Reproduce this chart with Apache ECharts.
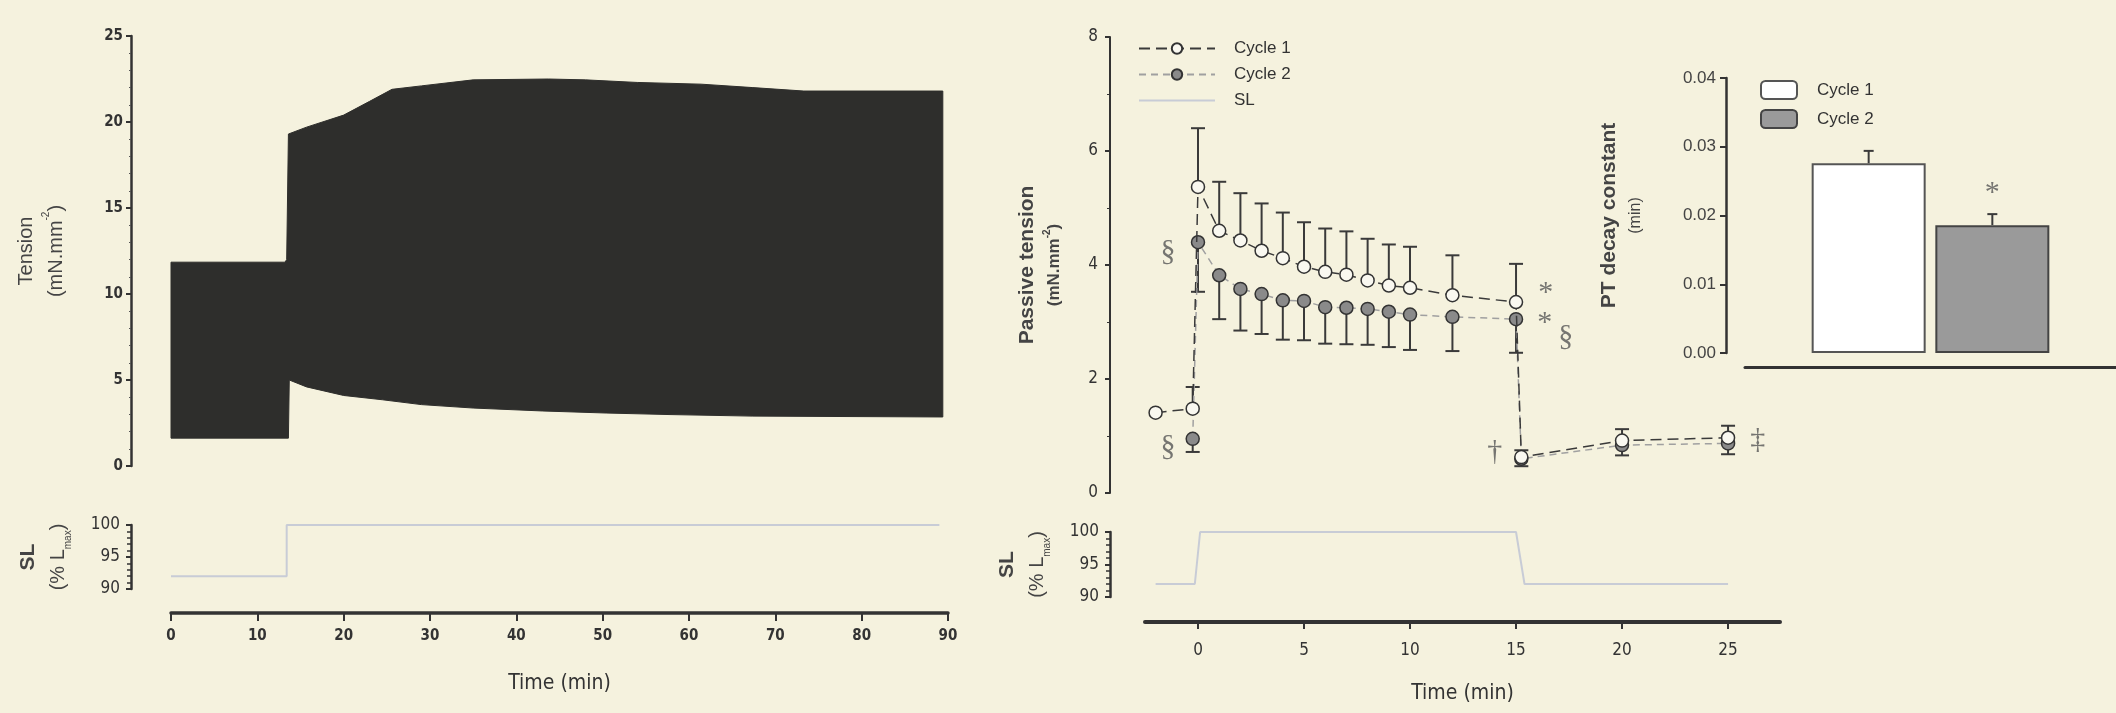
<!DOCTYPE html>
<html>
<head>
<meta charset="utf-8">
<script src="https://cdn.jsdelivr.net/npm/echarts@6/dist/echarts.min.js"></script>
<style>
  html, body {margin: 0; padding: 0; background: #f5f2de;}
  #chart {width: 2116px; height: 713px;}
</style>
</head>
<body>
<div id="chart"></div>
<script>
// left panel: raw tension trace envelope (min)
const traceHiTime = [0, 13.2, 13.4, 13.6, 15.7, 20, 23, 25.6, 29, 35, 43.7, 48, 54, 61.4, 67.4, 73.3, 89.4]
const traceHi = [11.85, 11.85, 12.0, 19.3, 19.7, 20.4, 21.2, 21.9, 22.1, 22.45, 22.5, 22.45, 22.3, 22.2, 22.0, 21.8, 21.8]
const traceLoTime = [0, 13.6, 13.7, 15.7, 20, 24.5, 29, 35, 43, 50.4, 57.8, 67.4, 89.4]
const traceLo = [1.62, 1.62, 5.0, 4.6, 4.1, 3.85, 3.57, 3.37, 3.2, 3.08, 2.99, 2.9, 2.85]

// sarcomere length protocols
const slLongTime = [0, 13.4, 13.4, 89]
const slLong = [92, 92, 100, 100]
const slShortTime = [-2, -0.15, 0.1, 15, 15.4, 25]
const slShort = [92, 92, 100, 100, 92, 92]

// middle panel: passive tension, mean and SEM
const c1Time = [-2, -0.25, 0, 1, 2, 3, 4, 5, 6, 7, 8, 9, 10, 12, 15, 15.25, 20, 25]
const c1Mean = [1.41, 1.48, 5.37, 4.6, 4.43, 4.25, 4.12, 3.97, 3.88, 3.83, 3.73, 3.64, 3.6, 3.47, 3.35, 0.63, 0.92, 0.97]
const c1Err = [0, 0.38, 1.03, 0.86, 0.83, 0.83, 0.8, 0.78, 0.76, 0.76, 0.73, 0.72, 0.72, 0.7, 0.67, 0.12, 0.2, 0.21]
const c2Time = [-0.25, 0, 1, 2, 3, 4, 5, 6, 7, 8, 9, 10, 12, 15, 15.25, 20, 25]
const c2Mean = [0.95, 4.4, 3.82, 3.58, 3.49, 3.38, 3.37, 3.26, 3.25, 3.23, 3.18, 3.13, 3.09, 3.05, 0.6, 0.84, 0.87]
const c2Err = [0.23, 0.87, 0.77, 0.73, 0.7, 0.69, 0.69, 0.64, 0.64, 0.63, 0.62, 0.62, 0.6, 0.59, 0.13, 0.18, 0.19]

// inset: PT decay constant
const decayPos = [1, 2]
const decayMean = [0.0276, 0.0186]
const decayErr = [0.0018, 0.0016]

// significance marks
const marks = [
  {t: -1.42, v: 4.23, text: '§'},
  {t: -1.42, v: 0.81, text: '§'},
  {t: 16.4, v: 3.5, text: '*'},
  {t: 16.35, v: 2.98, text: '*'},
  {t: 17.35, v: 2.74, text: '§'},
  {t: 14.0, v: 0.72, text: '†'},
  {t: 26.4, v: 0.93, text: '‡'},
]

const BG = '#f5f2de'
const INK = '#333'
const NARROW = "'Liberation Sans Narrow', 'DejaVu Sans Condensed', sans-serif"
const SANS = "'Liberation Sans', Arial, sans-serif"
const SERIF = "'Liberation Serif', 'DejaVu Serif', serif"

const pairs = (xs, ys) => xs.map((x, i) => [x, ys[i]])

const titleRich = {
  t: {fontFamily: SANS, fontSize: 20, color: '#444', lineHeight: 30},
  b: {fontFamily: SANS, fontSize: 21, color: '#444', fontWeight: 'bold', lineHeight: 30},
  bs: {fontFamily: SANS, fontSize: 17, color: '#444', fontWeight: 'bold', lineHeight: 24},
  s: {fontFamily: SANS, fontSize: 16, color: '#444', lineHeight: 24},
  sup: {fontFamily: SANS, fontSize: 10, color: '#444', verticalAlign: 'top', lineHeight: 24},
  supb: {fontFamily: SANS, fontSize: 10, color: '#444', verticalAlign: 'top', fontWeight: 'bold', lineHeight: 20},
  sub: {fontFamily: SANS, fontSize: 10, color: '#444', verticalAlign: 'bottom', lineHeight: 24},
}

const axisLine = (w = 2) => ({show: true, onZero: false, lineStyle: {color: INK, width: w}})
const ticks = (len = 5) => ({show: true, length: len, lineStyle: {color: INK, width: 2}})

function errorBars(dir, cap) {
  return (params, api) => {
    const x = api.value(0), m = api.value(1), e = api.value(2)
    if (!e) return
    const p0 = api.coord([x, m])
    const p1 = api.coord([x, m + dir * e])
    const style = {stroke: '#3a3a3a', lineWidth: 2}
    return {
      type: 'group',
      children: [
        {type: 'line', shape: {x1: p0[0], y1: p0[1], x2: p1[0], y2: p1[1]}, style},
        {type: 'line', shape: {x1: p1[0] - cap, y1: p1[1], x2: p1[0] + cap, y2: p1[1]}, style},
      ],
    }
  }
}

// band between the upper and lower envelope of the trace
function traceBand(params, api) {
  const upper = pairs(traceHiTime, traceHi).map(p => api.coord(p))
  const lower = pairs(traceLoTime, traceLo).map(p => api.coord(p)).reverse()
  return {
    type: 'polygon',
    shape: {points: upper.concat(lower)},
    style: {fill: '#2e2e2c', stroke: '#2e2e2c', lineWidth: 1},
  }
}

const chart = echarts.init(document.getElementById('chart'))

chart.setOption({
  backgroundColor: BG,
  animation: false,
  grid: [
    {left: 171, top: 36, width: 777, height: 430},
    {left: 171, top: 525, width: 777, height: 64},
    {left: 1145, top: 37, width: 635, height: 456},
    {left: 1145, top: 532, width: 635, height: 65},
    {left: 1745, top: 78, width: 382, height: 275},
  ],
  legend: [
    {
      data: ['Cycle 1', 'Cycle 2', 'SL'],
      orient: 'vertical', left: 1133, top: 35,
      itemWidth: 76, itemHeight: 13, itemGap: 9,
      textStyle: {fontFamily: SANS, fontSize: 17, color: INK, padding: [0, 0, 0, 14]},
    },
    {
      data: ['PT Cycle 1', 'PT Cycle 2'],
      formatter: n => n.replace('PT ', ''),
      orient: 'vertical', left: 1755, top: 75,
      itemWidth: 36, itemHeight: 18, itemGap: 9,
      textStyle: {fontFamily: SANS, fontSize: 17, color: INK, padding: [0, 0, 0, 15]},
    },
  ],
  xAxis: [
    {gridIndex: 0, type: 'value', min: 0, max: 90, show: false},
    {
      gridIndex: 1, type: 'value', min: 0, max: 90, interval: 10, offset: 24,
      axisLine: axisLine(3.5), axisTick: ticks(8), splitLine: {show: false},
      axisLabel: {margin: 16, fontFamily: NARROW, fontWeight: 'bold', fontSize: 15, color: INK},
      name: 'Time (min)', nameLocation: 'middle', nameGap: 60,
      nameTextStyle: {fontFamily: NARROW, fontSize: 21, color: INK},
    },
    {gridIndex: 2, type: 'value', min: -2.5, max: 27.45, show: false},
    {
      gridIndex: 3, type: 'value', min: -2.5, max: 27.45, offset: 25,
      axisLine: axisLine(4), splitLine: {show: false},
      axisTick: {...ticks(7), customValues: [0, 5, 10, 15, 20, 25]},
      axisLabel: {margin: 20, fontFamily: NARROW, fontSize: 17, color: INK, customValues: [0, 5, 10, 15, 20, 25]},
      name: 'Time (min)', nameLocation: 'middle', nameGap: 61,
      nameTextStyle: {fontFamily: NARROW, fontSize: 21, color: INK},
    },
    {
      gridIndex: 4, type: 'value', min: 0, max: 3, offset: 14,
      axisLine: axisLine(3), axisTick: {show: false}, axisLabel: {show: false}, splitLine: {show: false},
    },
  ],
  yAxis: [
    {
      gridIndex: 0, type: 'value', min: 0, max: 25, interval: 5, offset: 40,
      axisLine: axisLine(2.5), axisTick: ticks(5), splitLine: {show: false},
      minorTick: {show: true, splitNumber: 5, length: 2, lineStyle: {color: '#555'}},
      axisLabel: {margin: 8, fontFamily: NARROW, fontWeight: 'bold', fontSize: 15, color: INK},
      name: '{t|Tension}\n{t|(mN.mm}{sup|-2}{t|)}', nameLocation: 'middle', nameGap: 60, nameRotate: 90,
      nameTextStyle: {rich: titleRich, align: 'center'},
    },
    {
      gridIndex: 1, type: 'value', min: 90, max: 100, interval: 5, offset: 40,
      axisLine: axisLine(2.5), axisTick: ticks(5), splitLine: {show: false},
      minorTick: {show: true, splitNumber: 5, length: 4, lineStyle: {color: INK, width: 1.5}},
      axisLabel: {margin: 11, fontFamily: NARROW, fontSize: 17, color: INK},
      name: '{b|SL}\n{t|(% L}{sub|max}{t|)}', nameLocation: 'middle', nameGap: 58, nameRotate: 90,
      nameTextStyle: {rich: titleRich, align: 'center'},
    },
    {
      gridIndex: 2, type: 'value', min: 0, max: 8, interval: 2, offset: 35,
      axisLine: axisLine(2), axisTick: ticks(5), splitLine: {show: false},
      minorTick: {show: true, splitNumber: 2, length: 3, lineStyle: {color: INK}},
      axisLabel: {margin: 12, fontFamily: NARROW, fontSize: 17, color: INK},
      name: '{b|Passive tension}\n{bs|(mN.mm}{supb|-2}{bs|)}', nameLocation: 'middle', nameGap: 44, nameRotate: 90,
      nameTextStyle: {rich: titleRich, align: 'center'},
    },
    {
      gridIndex: 3, type: 'value', min: 90, max: 100, interval: 5, offset: 35,
      axisLine: axisLine(2.5), axisTick: ticks(5), splitLine: {show: false},
      minorTick: {show: true, splitNumber: 5, length: 4, lineStyle: {color: INK, width: 1.5}},
      axisLabel: {margin: 11, fontFamily: NARROW, fontSize: 17, color: INK},
      name: '{b|SL}\n{t|(% L}{sub|max}{t|)}', nameLocation: 'middle', nameGap: 58, nameRotate: 90,
      nameTextStyle: {rich: titleRich, align: 'center'},
    },
    {
      gridIndex: 4, type: 'value', min: 0, max: 0.04, interval: 0.01, offset: 19,
      axisLine: axisLine(2.5), axisTick: ticks(6), splitLine: {show: false},
      axisLabel: {margin: 10, fontFamily: SANS, fontSize: 17, color: '#444', formatter: v => v.toFixed(2)},
      name: '{b|PT decay constant}\n{s|(min)}', nameLocation: 'middle', nameGap: 78, nameRotate: 90,
      nameTextStyle: {rich: titleRich, align: 'center'},
    },
  ],
  series: [
    {
      type: 'custom', xAxisIndex: 0, yAxisIndex: 0, data: [0], silent: true,
      renderItem: traceBand,
    },
    {
      name: 'SL', type: 'line', xAxisIndex: 1, yAxisIndex: 1, data: pairs(slLongTime, slLong),
      symbol: 'none', itemStyle: {color: 'rgba(0,0,0,0)'}, lineStyle: {color: '#c8ccd6', width: 2},
    },
    {
      name: 'SL', type: 'line', xAxisIndex: 3, yAxisIndex: 3, data: pairs(slShortTime, slShort),
      symbol: 'none', itemStyle: {color: 'rgba(0,0,0,0)'}, lineStyle: {color: '#c8ccd6', width: 2},
    },
    // error bars (cycle 1 up, cycle 2 down)
    {
      type: 'custom', xAxisIndex: 2, yAxisIndex: 2, z: 1,
      data: c1Time.map((t, i) => [t, c1Mean[i], c1Err[i]]),
      renderItem: errorBars(1, 7),
    },
    {
      type: 'custom', xAxisIndex: 2, yAxisIndex: 2, z: 1,
      data: c2Time.map((t, i) => [t, c2Mean[i], c2Err[i]]),
      renderItem: errorBars(-1, 7),
    },
    {
      name: 'Cycle 2', type: 'line', xAxisIndex: 2, yAxisIndex: 2, z: 3,
      data: pairs(c2Time, c2Mean),
      symbol: 'circle', symbolSize: 13,
      itemStyle: {color: '#8a8a8a', borderColor: INK, borderWidth: 1.5},
      lineStyle: {color: '#a0a0a0', width: 1.5, type: [7, 5]},
    },
    {
      name: 'Cycle 1', type: 'line', xAxisIndex: 2, yAxisIndex: 2, z: 4,
      data: pairs(c1Time, c1Mean),
      symbol: 'circle', symbolSize: 13,
      itemStyle: {color: '#f9f8f0', borderColor: INK, borderWidth: 1.5},
      lineStyle: {color: '#3a3a3a', width: 1.5, type: [11, 6]},
    },
    {
      type: 'scatter', xAxisIndex: 2, yAxisIndex: 2, z: 5, symbolSize: 0, silent: true,
      data: marks.map(m => ({value: [m.t, m.v], label: {formatter: m.text}})),
      label: {show: true, position: 'inside', fontFamily: SERIF, fontSize: 30, color: '#555'},
    },
    // inset bars
    {
      name: 'PT Cycle 1', type: 'bar', xAxisIndex: 4, yAxisIndex: 4, barWidth: 114, barGap: '-100%',
      data: [[decayPos[0], decayMean[0]]],
      itemStyle: {color: '#ffffff', borderColor: '#555', borderWidth: 2},
    },
    {
      name: 'PT Cycle 2', type: 'bar', xAxisIndex: 4, yAxisIndex: 4, barWidth: 114, barGap: '-100%',
      data: [[decayPos[1], decayMean[1]]],
      itemStyle: {color: '#9a9a9a', borderColor: '#444', borderWidth: 2},
    },
    {
      type: 'custom', xAxisIndex: 4, yAxisIndex: 4, z: 3,
      data: decayPos.map((p, i) => [p, decayMean[i], decayErr[i]]),
      renderItem: errorBars(1, 5),
    },
    {
      type: 'scatter', xAxisIndex: 4, yAxisIndex: 4, symbolSize: 0, silent: true,
      data: [[decayPos[1], 0.0233]],
      label: {show: true, position: 'inside', formatter: '*', fontFamily: SERIF, fontSize: 30, color: '#555'},
    },
  ],
})
</script>
</body>
</html>
